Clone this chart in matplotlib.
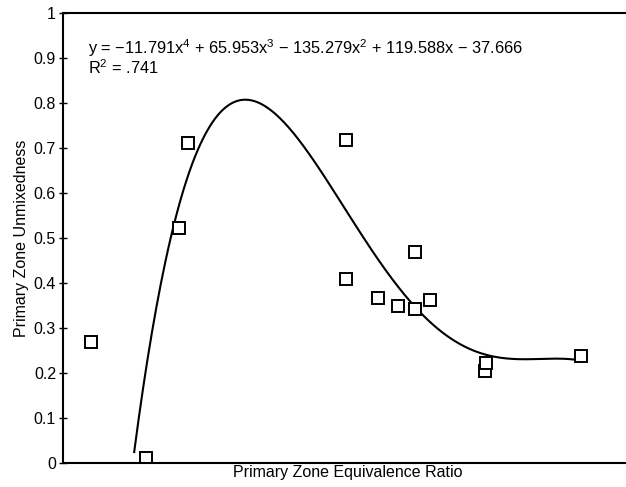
import numpy as np
import matplotlib
matplotlib.use('Agg')
from matplotlib import pyplot as plt

plt.rcParams['font.family'] = ['Liberation Sans', 'DejaVu Sans']
plt.rcParams['mathtext.fontset'] = 'custom'
plt.rcParams['mathtext.rm'] = 'Liberation Sans'
plt.rcParams['mathtext.it'] = 'Liberation Sans'
plt.rcParams['mathtext.default'] = 'regular'

# measured points (equivalence ratio, unmixedness)
phi = [0.660, 0.774, 0.845, 0.864, 1.197, 1.197, 1.264, 1.305, 1.341, 1.342, 1.374, 1.490, 1.492, 1.691]
unmix = [0.268, 0.010, 0.523, 0.710, 0.718, 0.408, 0.366, 0.349, 0.342, 0.468, 0.361, 0.205, 0.222, 0.237]

# 4th order fit shown on the chart
fit_coef = [-11.791, 65.953, -135.279, 119.588, -37.666]
fit_range = [0.75, 1.685]
y_ticks = [0, 0.1, 0.2, 0.3, 0.4, 0.5, 0.6, 0.7, 0.8, 0.9, 1]
y_labels = ['0', '0.1', '0.2', '0.3', '0.4', '0.5', '0.6', '0.7', '0.8', '0.9', '1']

fig = plt.figure(figsize=(6.26, 4.87), dpi=100)
ax = fig.add_axes([0.1006, 0.0499, 0.91, 0.9234])

xf = np.linspace(fit_range[0], fit_range[1], 300)
ax.plot(xf, np.polyval(fit_coef, xf), color='black', lw=1.5)
ax.plot(phi, unmix, 's', ms=8.2, mfc='white', mec='black', mew=1.4, ls='none')

ax.set_xlim(0.6, 1.8)
ax.set_ylim(0, 1)
ax.set_xticks([])
ax.set_yticks(y_ticks)
ax.set_yticklabels(y_labels)
ax.tick_params(axis='y', direction='inout', length=6, width=1, labelsize=11.5, pad=2)
ax.spines['right'].set_visible(False)
for s in ['left', 'bottom', 'top']:
    ax.spines[s].set_linewidth(1.5)

ax.set_xlabel('Primary Zone Equivalence Ratio', fontsize=11.5, labelpad=2)
ax.set_ylabel('Primary Zone Unmixedness', fontsize=11.5, labelpad=3)

ax.text(0.653, 0.909, 'y = \u221211.791x$^4$ + 65.953x$^3$ \u2212 135.279x$^2$ + 119.588x \u2212 37.666',
        fontsize=11.8, va='baseline', ha='left')
ax.text(0.653, 0.864, 'R$^2$ = .741', fontsize=11.8, va='baseline', ha='left')

plt.savefig('out.png', dpi=100)
